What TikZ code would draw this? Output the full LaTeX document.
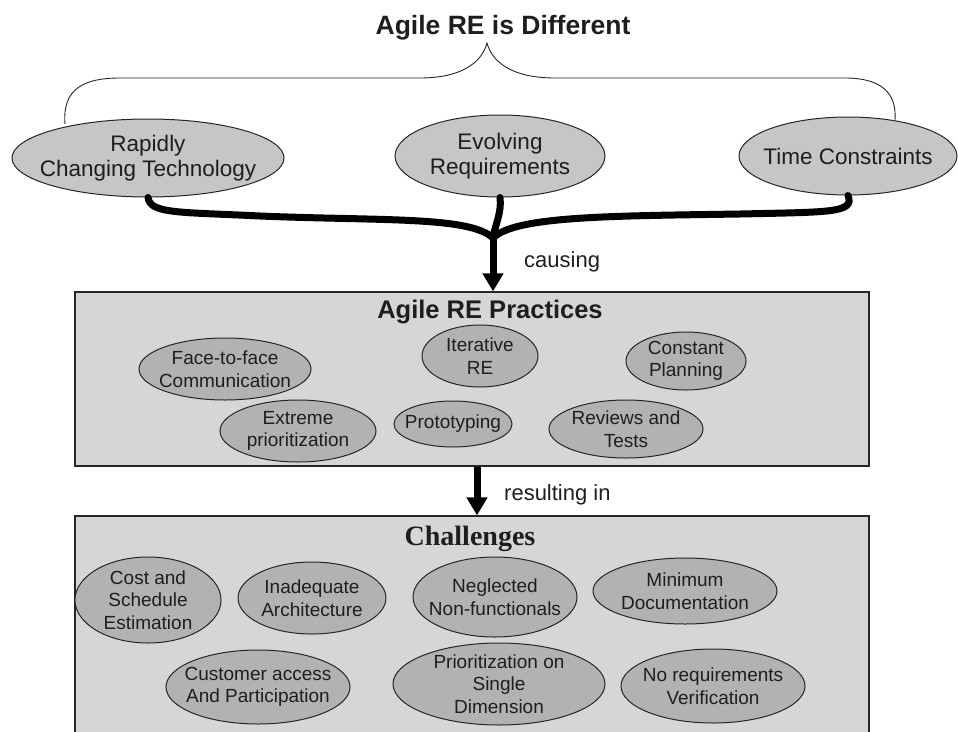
\documentclass[tikz,border=0pt]{standalone}
\usepackage{fontspec}
\setmainfont{Liberation Sans}
\newfontfamily\serifbf{Liberation Serif}
\usetikzlibrary{shapes.geometric,arrows.meta}
\definecolor{topfill}{HTML}{C6C6C6}
\definecolor{boxfill}{HTML}{D6D6D6}
\definecolor{ellfill}{HTML}{B2B2B2}
\definecolor{txt}{HTML}{1E1E1E}
\tikzset{
  ell/.style n args={2}{ellipse, draw=black!85, line width=1pt, fill=ellfill,
     minimum width=#1pt, minimum height=#2pt, inner sep=0pt},
  topell/.style n args={2}{ell={#1}{#2}, fill=topfill},
  toptxt/.style={align=center, text=txt, font=\fontsize{22.5}{24.5}\selectfont, inner sep=0pt},
  smalltxt/.style={align=center, text=txt, font=\fontsize{19}{22.5}\selectfont, inner sep=0pt},
  panel/.style n args={2}{rectangle, draw=black!85, line width=1.2pt, fill=boxfill,
     minimum width=#1pt, minimum height=#2pt, inner sep=0pt},
  flow/.style={line width=7pt, black, line cap=round},
  bigarrow/.style={line width=7pt, black, -{Triangle[width=20pt,length=18pt]}},
}
\begin{document}
\begin{tikzpicture}[x=1pt,y=-1pt]
\useasboundingbox (0,0) rectangle (958,731);
\clip (0,0) rectangle (958,731);

% title
\node[font=\bfseries\fontsize{26.5}{30}\selectfont, text=txt, inner sep=0pt] (title) at (503,28) {Agile RE is Different};

% top ellipses
\node[topell={272}{78}, label={[toptxt]center:Rapidly\\Changing Technology}] (rct) at (148,158) {};
\node[topell={210}{82}, label={[toptxt]center:Evolving\\Requirements}] (evr) at (500,156) {};
\node[topell={218}{78}, label={[toptxt]center:Time Constraints}] (tc) at (848,156) {};

% brace
\coordinate (bl) at (65,124);
\coordinate (br) at (895,120);
\coordinate (tip) at (487,43);
\draw[line width=0.9pt, black!85] (bl) .. controls (62,88) and (85,78) .. (120,78)
  -- (420,78) .. controls (462,78) and (482,62) .. (tip)
  .. controls (492,62) and (512,78) .. (555,78)
  -- (845,78) .. controls (880,78) and (897,92) .. (br);

% panels
\node[panel={794}{174}] (practices) at (472,379) {};
\node[font=\bfseries\fontsize{25.5}{28}\selectfont, text=txt, inner sep=0pt] (ptitle) at (490,312) {Agile RE Practices};
\node[panel={794}{226}] (challenges) at (472,629) {};
\node[font=\serifbf\bfseries\fontsize{28}{30}\selectfont, text=txt, inner sep=0pt] (ctitle) at (470,539) {Challenges};

% thick flows
\coordinate (j) at (493,238);
\draw[flow] (rct.south) .. controls (150,214) and (180,212) .. (260,216)
   .. controls (380,221) and (470,216) .. (j);
\draw[flow] (tc.south) .. controls (855,213) and (830,212) .. (740,214)
   .. controls (610,216) and (515,216) .. (j);
\draw[flow] (evr.south) .. controls (502,212) and (495,225) .. (j);
\draw[bigarrow] (j) -- (j |- practices.north);
\node[font=\fontsize{22}{26}\selectfont, text=txt, anchor=west, inner sep=0pt] (causing) at (524,262) {causing};

\draw[bigarrow] ([xshift=5pt]practices.south) -- ([xshift=5pt]practices.south |- challenges.north);
\node[font=\fontsize{22}{26}\selectfont, text=txt, anchor=west, inner sep=0pt] (resulting) at (504,495) {resulting in};

% practices ellipses
\node[ell={172}{62}, label={[smalltxt]center:Face-to-face\\Communication}] (ftf) at (225,369) {};
\node[ell={116}{62}, label={[smalltxt]center:Iterative\\RE}] (ire) at (480,356) {};
\node[ell={120}{58}, label={[smalltxt]center:Constant\\Planning}] (cp) at (686,361) {};
\node[ell={156}{62}, label={[smalltxt]center:Extreme\\prioritization}] (ep) at (298,431) {};
\node[ell={118}{46}, label={[smalltxt]center:Prototyping}] (pr) at (453,424) {};
\node[ell={154}{58}, label={[smalltxt]center:Reviews and\\Tests}] (rt) at (626,429) {};

% challenges ellipses
\node[ell={146}{86}, label={[smalltxt]center:Cost and\\Schedule\\Estimation}] (cse) at (148,600) {};
\node[ell={148}{72}, label={[smalltxt]center:Inadequate\\Architecture}] (ia) at (312,598) {};
\node[ell={164}{80}, label={[smalltxt]center:Neglected\\Non-functionals}] (nnf) at (495,597) {};
\node[ell={184}{66}, label={[smalltxt]center:Minimum\\Documentation}] (md) at (685,591) {};
\node[ell={184}{74}, label={[smalltxt]center:Customer access\\And Participation}] (cap) at (258,687) {};
\node[ell={212}{82}, label={[smalltxt]center:Prioritization on\\Single\\Dimension}] (psd) at (499,684) {};
\node[ell={184}{74}, label={[smalltxt]center:No requirements\\Verification}] (nrv) at (713,686) {};
\end{tikzpicture}
\end{document}
